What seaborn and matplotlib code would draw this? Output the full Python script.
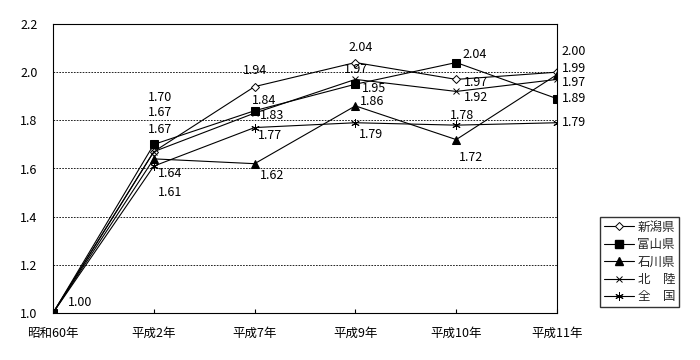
import matplotlib
matplotlib.use("Agg")
import matplotlib.pyplot as plt
from matplotlib.lines import Line2D
import seaborn as sns
import pandas as pd

categories = ["昭和60年", "平成2年", "平成7年", "平成9年", "平成10年", "平成11年"]
niigata = [1.00, 1.67, 1.94, 2.04, 1.97, 2.00]
toyama = [1.00, 1.70, 1.84, 1.95, 2.04, 1.89]
ishikawa = [1.00, 1.64, 1.62, 1.86, 1.72, 1.99]
hokuriku = [1.00, 1.67, 1.83, 1.97, 1.92, 1.97]
zenkoku = [1.00, 1.61, 1.77, 1.79, 1.78, 1.79]
series_names = ["新潟県", "富山県", "石川県", "北　陸", "全　国"]
yticks = [1.0, 1.2, 1.4, 1.6, 1.8, 2.0, 2.2]

series = [niigata, toyama, ishikawa, hokuriku, zenkoku]

# label offsets in pixels (dx right, dy down); None = no label
offsets = {
    "新潟県": [(27, -10), (6, -39), (0, -16), (5, -15), (20, 3), (17, -21)],
    "富山県": [None, (6, -47), (10, -10), (19, 4), (18, -8), (17, 0)],
    "石川県": [None, (16, 15), (18, 12), (17, -4), (15, 18), (17, -6)],
    "北　陸": [None, (6, -22), (18, 2), (1, -10), (20, 6), (17, 3)],
    "全　国": [None, (16, 26), (15, 8), (16, 12), (6, -10), (17, 0)],
}

styles = {
    "新潟県": dict(marker="D", markersize=4.5, markerfacecolor="white", markeredgecolor="black", markeredgewidth=0.7),
    "富山県": dict(marker="s", markersize=5.5, markerfacecolor="black", markeredgecolor="black"),
    "石川県": dict(marker="^", markersize=6, markerfacecolor="black", markeredgecolor="black"),
    "北　陸": dict(marker="x", markersize=5, markeredgecolor="black", markeredgewidth=0.7),
    "全　国": dict(marker=(6, 2, 0), markersize=6, markeredgecolor="black", markeredgewidth=0.7),
}

sns.set_theme(style="white")
plt.rcParams["font.family"] = ["Noto Sans CJK JP", "DejaVu Sans"]

fig = plt.figure(figsize=(7, 3.6), dpi=100)
ax = fig.add_axes([53 / 700, 1 - 313 / 360, (557 - 53) / 700, (313 - 24) / 360])

xs = list(range(len(categories)))
handles = []
for name, vals in zip(series_names, series):
    df = pd.DataFrame({"x": xs, "y": vals})
    st = styles[name]
    sns.lineplot(data=df, x="x", y="y", ax=ax, color="black", linewidth=0.8, **st)
    handles.append(Line2D([], [], color="black", linewidth=0.8, **st))
    for i, (xv, yv) in enumerate(zip(xs, vals)):
        off = offsets[name][i]
        if off is None:
            continue
        ax.annotate(f"{yv:.2f}", (xv, yv), xytext=(off[0] * 0.72, -off[1] * 0.72),
                    textcoords="offset points", ha="center", va="center",
                    fontsize=9, color="black")

ax.set_xlim(0, len(categories) - 1)
ax.set_ylim(1.0, 2.2)
ax.set_xticks(xs)
ax.set_xticklabels(categories, fontsize=9)
ax.set_yticks(yticks)
ax.set_yticklabels([f"{v:.1f}" for v in yticks], fontsize=9)
ax.set_xlabel("")
ax.set_ylabel("")
ax.tick_params(axis="y", length=0, pad=11, colors="black")
ax.tick_params(axis="x", direction="in", length=3, width=0.8, pad=10, colors="black", bottom=True)
for v in yticks[1:-1]:
    ax.axhline(v, color="black", linestyle=(0, (2, 1.5)), linewidth=0.6, zorder=0)
for sp in ax.spines.values():
    sp.set_color("black")
    sp.set_linewidth(0.8)
ax.set_facecolor("white")
fig.patch.set_facecolor("white")

leg = fig.legend(handles, series_names, loc="lower left", bbox_to_anchor=(600 / 700, 1 - 307 / 360),
                 borderaxespad=0, fontsize=9, frameon=True, fancybox=False, edgecolor="black",
                 handlelength=2.4, handletextpad=0.3, labelspacing=0.35, borderpad=0.3)
leg.get_frame().set_linewidth(1.0)

fig.savefig("out.png", dpi=100, facecolor="white")
